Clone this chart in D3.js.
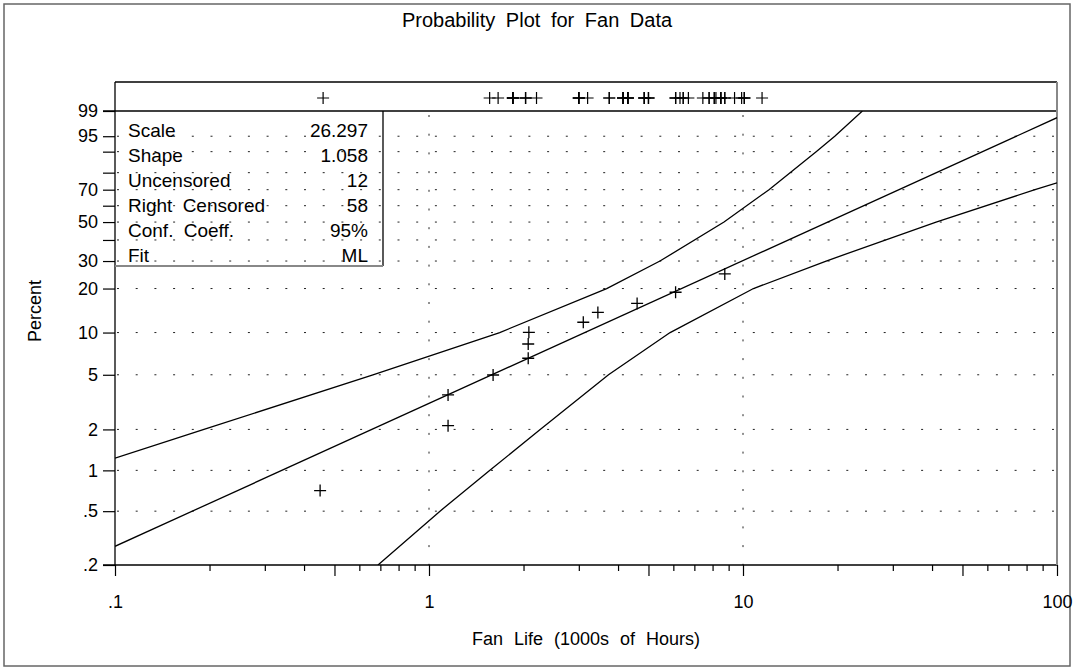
<!DOCTYPE html>
<html>
<head>
<meta charset="utf-8">
<script src="https://cdn.jsdelivr.net/npm/d3@7"></script>
<style>
  html, body { margin: 0; padding: 0; background: #fff; }
  svg text { font-family: "Liberation Sans", Arial, Helvetica, sans-serif; fill: #000; }
</style>
</head>
<body>
<svg id="chart" width="1075" height="671"></svg>
<script>
// Fan lifetimes, 1000s of hours
const failureTimes    = [0.45, 1.15, 1.15, 1.60, 2.07, 2.07, 2.08, 3.10, 3.45, 4.60, 6.10, 8.75];
const failurePercents = [0.71, 2.13, 3.57, 4.98, 6.57, 8.30, 10.04, 11.8, 13.8, 15.9, 18.9, 24.9];
const censoredTimes = [
  0.46, 1.56, 1.66, 1.85, 1.85, 1.85, 1.85, 1.85, 2.03, 2.03, 2.03, 2.20,
  3.00, 3.00, 3.00, 3.00, 3.20, 3.75, 3.75, 4.15, 4.15, 4.15, 4.15,
  4.30, 4.30, 4.30, 4.30, 4.85, 4.85, 4.85, 4.85, 5.00, 5.00, 5.00,
  6.10, 6.10, 6.10, 6.30, 6.45, 6.45, 6.70, 7.45, 7.80, 7.80, 8.10, 8.10,
  8.20, 8.50, 8.50, 8.50, 8.75, 8.75, 9.40, 9.90, 10.10, 10.10, 10.10, 11.50
];

// Weibull ML fit
const weibullScale = 26.297;
const weibullShape = 1.058;
const confCoeff = "95%";
const fitMethod = "ML";

// 95% confidence band (time, percent)
const upperBandTimes    = [0.1, 0.192, 0.663, 1.68, 3.68, 5.44, 8.7, 12.1, 17.1, 19.6, 24.0];
const upperBandPercents = [1.23, 2, 5, 10, 20, 30, 50, 70, 90, 95, 99];
const lowerBandTimes    = [0.688, 1.084, 1.563, 2.26, 3.73, 5.86, 10.8, 18.4, 41.2, 85.1, 100];
const lowerBandPercents = [0.2, 0.5, 1, 2, 5, 10, 20, 30, 50, 70, 74.2];

// Axis ticks
const yMajorPercents = [99, 95, 70, 50, 30, 20, 10, 5, 2, 1, 0.5, 0.2];
const yTickLabels    = ["99", "95", "70", "50", "30", "20", "10", "5", "2", "1", ".5", ".2"];
const yMinorPercents = [90, 80, 60, 40];
const xMajorValues = [0.1, 1, 10, 100];
const xTickLabels  = [".1", "1", "10", "100"];
const xGridValues  = [1, 10];

const legendLabels = ["Scale", "Shape", "Uncensored", "Right Censored", "Conf. Coeff.", "Fit"];
const legendValues = [weibullScale.toFixed(3), weibullShape.toFixed(3),
  String(failureTimes.length), String(censoredTimes.length), confCoeff, fitMethod];

// ---------------------------------------------------------------
const plot = { left: 115, right: 1057, top: 111, bottom: 565, stripTop: 82 };
const svg = d3.select("#chart");

const weib = p => Math.log(-Math.log(1 - p / 100));
const x = d3.scaleLog().domain([0.1, 100]).range([plot.left, plot.right]);
const y = d3.scaleLinear().domain([weib(0.2), weib(99)]).range([plot.bottom, plot.top]);

// outer frame
svg.append("rect")
  .attr("x", 4).attr("y", 4).attr("width", 1066).attr("height", 662)
  .attr("fill", "none").attr("stroke", "#666").attr("stroke-width", 1.5);

// title
svg.append("text")
  .attr("x", 537).attr("y", 27).attr("text-anchor", "middle")
  .style("font-size", "20px").style("word-spacing", "5px")
  .text("Probability Plot for Fan Data");

svg.append("defs").append("clipPath").attr("id", "plotClip")
  .append("rect")
  .attr("x", plot.left).attr("y", plot.top)
  .attr("width", plot.right - plot.left).attr("height", plot.bottom - plot.top);

// dotted reference grid
const gridPercents = yMajorPercents.concat(yMinorPercents).filter(p => p !== 99 && p !== 0.2);
const grid = svg.append("g").attr("stroke", "#222").attr("stroke-width", 1)
  .attr("stroke-dasharray", "2,16.7");
grid.selectAll("line.h").data(gridPercents).join("line").attr("class", "h")
  .attr("x1", plot.left + 2).attr("x2", plot.right)
  .attr("y1", d => y(weib(d))).attr("y2", d => y(weib(d)));
grid.selectAll("line.v").data(xGridValues).join("line").attr("class", "v")
  .attr("x1", d => x(d)).attr("x2", d => x(d))
  .attr("y1", plot.top + 4).attr("y2", plot.bottom);

// y axis: major and minor ticks
const yAxis = svg.append("g").attr("transform", `translate(${plot.left},0)`)
  .call(d3.axisLeft(y)
    .tickValues(yMajorPercents.map(weib))
    .tickFormat((d, i) => yTickLabels[i])
    .tickSize(12).tickPadding(5).tickSizeOuter(0));
yAxis.select(".domain").remove();
const yMinor = svg.append("g").attr("transform", `translate(${plot.left},0)`)
  .call(d3.axisLeft(y).tickValues(yMinorPercents.map(weib)).tickFormat("")
    .tickSize(12).tickSizeOuter(0));
yMinor.select(".domain").remove();
[yAxis, yMinor].forEach(g => {
  g.selectAll("line").attr("stroke", "#000").attr("stroke-width", 1.2);
  g.selectAll("text").style("font-size", "18px").attr("fill", "#000");
});

// x axis: decades labelled, 2..9 minor ticks (5 longer)
const xAxis = svg.append("g").attr("transform", `translate(0,${plot.bottom})`)
  .call(d3.axisBottom(x).tickValues(xMajorValues)
    .tickFormat((d, i) => xTickLabels[i])
    .tickSize(11).tickPadding(19).tickSizeOuter(0));
xAxis.select(".domain").remove();
const xMinorValues = [];
[0.1, 1, 10].forEach(dec => d3.range(2, 10).forEach(k => xMinorValues.push(k * dec)));
const xMinor = svg.append("g").attr("transform", `translate(0,${plot.bottom})`)
  .call(d3.axisBottom(x).tickValues(xMinorValues).tickFormat("")
    .tickSize(6).tickSizeOuter(0));
xMinor.select(".domain").remove();
xMinor.selectAll(".tick line").attr("y2", d => Math.abs(d / Math.pow(10, Math.floor(Math.log10(d) + 1e-9)) - 5) < 1e-6 ? 11 : 6);
[xAxis, xMinor].forEach(g => {
  g.selectAll("line").attr("stroke", "#000").attr("stroke-width", 1.2);
  g.selectAll("text").style("font-size", "18px").attr("fill", "#000");
});

// plot frame, censored strip
const frame = svg.append("g").attr("fill", "none");
frame.append("line").attr("x1", plot.left).attr("x2", plot.left)
  .attr("y1", plot.stripTop).attr("y2", plot.bottom).attr("stroke", "#000").attr("stroke-width", 1.3);
frame.append("line").attr("x1", plot.left - 12).attr("x2", plot.right)
  .attr("y1", plot.bottom).attr("y2", plot.bottom).attr("stroke", "#000").attr("stroke-width", 1.3);
frame.append("line").attr("x1", plot.left).attr("x2", plot.right)
  .attr("y1", plot.stripTop).attr("y2", plot.stripTop).attr("stroke", "#000").attr("stroke-width", 1.3);
frame.append("line").attr("x1", plot.left - 12).attr("x2", plot.right)
  .attr("y1", plot.top).attr("y2", plot.top).attr("stroke", "#000").attr("stroke-width", 1.3);
frame.append("line").attr("x1", plot.right).attr("x2", plot.right)
  .attr("y1", plot.stripTop).attr("y2", plot.bottom).attr("stroke", "#888").attr("stroke-width", 2);

// legend box (transparent, grid shows through)
const legend = svg.append("g");
const legendRight = 383, legendBottom = 266;
legend.append("line").attr("x1", legendRight).attr("x2", legendRight)
  .attr("y1", plot.top).attr("y2", legendBottom).attr("stroke", "#000").attr("stroke-width", 1.3);
legend.append("line").attr("x1", plot.left).attr("x2", legendRight)
  .attr("y1", legendBottom).attr("y2", legendBottom).attr("stroke", "#888").attr("stroke-width", 2);
legend.selectAll("text.lab").data(legendLabels).join("text").attr("class", "lab")
  .attr("x", 128).attr("y", (d, i) => 137 + i * 25)
  .style("font-size", "19px").style("word-spacing", "5px").text(d => d);
legend.selectAll("text.val").data(legendValues).join("text").attr("class", "val")
  .attr("x", 368).attr("y", (d, i) => 137 + i * 25).attr("text-anchor", "end")
  .style("font-size", "19px").text(d => d);

// fitted Weibull line and confidence band
const lines = svg.append("g").attr("clip-path", "url(#plotClip)")
  .attr("fill", "none").attr("stroke", "#000").attr("stroke-width", 1.3);
const fitW = t => weibullShape * (Math.log(t) - Math.log(weibullScale));
const fitPts = x.domain().map(t => [x(t), y(fitW(t))]);
lines.append("path").attr("d", d3.line()(fitPts));
const bandLine = d3.line().x(d => x(d[0])).y(d => y(weib(d[1])));
lines.append("path").attr("d", bandLine(d3.zip(upperBandTimes, upperBandPercents)));
lines.append("path").attr("d", bandLine(d3.zip(lowerBandTimes, lowerBandPercents)));

// plus markers
const plusPath = "M-6,0H6M0,-6V6";
svg.append("g").attr("stroke", "#000").attr("stroke-width", 1.3).attr("fill", "none")
  .selectAll("path").data(d3.zip(failureTimes, failurePercents)).join("path")
  .attr("d", plusPath)
  .attr("transform", d => `translate(${x(d[0])},${y(weib(d[1]))})`);
svg.append("g").attr("stroke", "#000").attr("stroke-width", 1.2).attr("fill", "none")
  .selectAll("path").data(censoredTimes).join("path")
  .attr("d", plusPath)
  .attr("transform", d => `translate(${x(d)},98)`);

// axis titles
svg.append("text")
  .attr("transform", "translate(41,311) rotate(-90)").attr("text-anchor", "middle")
  .style("font-size", "18px").text("Percent");
svg.append("text")
  .attr("x", (plot.left + plot.right) / 2).attr("y", 645).attr("text-anchor", "middle")
  .style("font-size", "18px").style("word-spacing", "6px")
  .text("Fan Life (1000s of Hours)");
</script>
</body>
</html>
